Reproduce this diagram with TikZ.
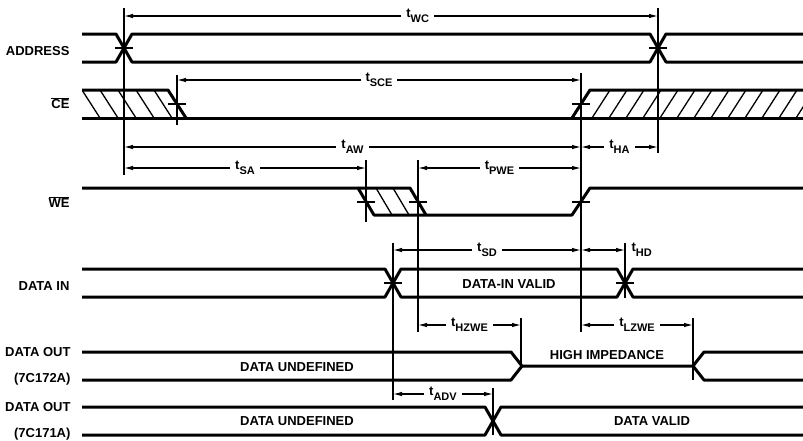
\documentclass[tikz,border=0pt]{standalone}
\usepackage{fontspec}
\setmainfont{Liberation Sans}
\usetikzlibrary{arrows.meta}
\newcommand{\tsub}[1]{t\raisebox{-4.5pt}{\fontsize{11}{12}\selectfont #1}}
\newcommand{\ovl}[1]{$\overline{\mbox{#1}}$}
\tikzset{
  sig/.style={line width=3pt, line join=round},
  hatch/.style={line width=1.3pt},
  tline/.style={line width=1.1pt},
  dim/.style={line width=1.1pt, {Latex[length=9pt,width=4.5pt]}-{Latex[length=9pt,width=4.5pt]}},
  lbl/.style={fill=white, inner xsep=5pt, inner ysep=1pt, font=\bfseries\fontsize{13}{15}\selectfont},
  txt/.style={font=\bfseries\fontsize{13}{15}\selectfont},
  signame/.style={anchor=east, font=\bfseries\fontsize{13}{15}\selectfont}
}
\begin{document}
\begin{tikzpicture}[x=1pt, y=-1pt]
  \useasboundingbox (0,0) rectangle (803,440);

  % signal names
  \node[signame] (nAddr) at (73,51) {ADDRESS};
  \node[signame] (nCE) at (73,103) {\ovl{CE}};
  \node[signame] (nWE) at (73,202) {\ovl{WE}};
  \node[signame] (nDin) at (73,286) {DATA IN};
  \node[signame] (nDoutA) at (74,352) {DATA OUT};
  \node[signame] (nDoutAb) at (74,379) {(7C172A)};
  \node[signame] (nDoutB) at (74,407) {DATA OUT};
  \node[signame] (nDoutBb) at (74,434) {(7C171A)};

  % reference lines
  \draw[tline] (124,8) -- (124,175);
  \draw[tline] (658,8) -- (658,153);
  \draw[tline] (177,75) -- (177,125);
  \draw[tline] (581,73) -- (581,332);
  \draw[tline] (366,160) -- (366,222);
  \draw[tline] (418,160) -- (418,332);
  \draw[tline] (393,243) -- (393,400);
  \draw[tline] (625,243) -- (625,298);
  \draw[tline] (521,318) -- (521,368);
  \draw[tline] (693,318) -- (693,380);
  \draw[tline] (493,388) -- (493,435);

  % crossing ticks
  \foreach \x/\y in {124/48, 658/48, 177/104, 581/104, 366/202, 418/202, 581/202, 393/283, 625/283}
    \draw[tline] (\x-9,\y) -- (\x+9,\y);
  \draw[tline] (521,366) -- (530,366);

  % ADDRESS
  \draw[sig] (82,34) -- (116,34) -- (132,62) -- (650,62) -- (666,34) -- (803,34);
  \draw[sig] (82,62) -- (116,62) -- (132,34) -- (650,34) -- (666,62) -- (803,62);

  % CE
  \draw[sig] (82,118) -- (803,118);
  \draw[sig] (82,90) -- (168,90) -- (186,118);
  \draw[sig] (572,118) -- (590,90) -- (803,90);
  \begin{scope}
    \clip (82,90) -- (168,90) -- (186,118) -- (82,118) -- cycle;
    \foreach \x in {82,100,...,172}
      \draw[hatch] (\x,90) -- (\x+18,118);
  \end{scope}
  \begin{scope}
    \clip (572,118) -- (590,90) -- (803,90) -- (803,118) -- cycle;
    \foreach \x in {592,609,...,820}
      \draw[hatch] (\x,118) -- (\x+18,90);
  \end{scope}

  % WE
  \draw[sig] (82,188) -- (358,188) -- (374,215) -- (572,215) -- (590,188) -- (803,188);
  \draw[sig] (358,188) -- (410,188) -- (426,215);
  \begin{scope}
    \clip (358,188) -- (410,188) -- (426,215) -- (374,215) -- cycle;
    \foreach \x in {376,393}
      \draw[hatch] (\x,188) -- (\x+16,215);
  \end{scope}

  % DATA IN
  \draw[sig] (82,269) -- (385,269) -- (401,297) -- (617,297) -- (633,269) -- (803,269);
  \draw[sig] (82,297) -- (385,297) -- (401,269) -- (617,269) -- (633,297) -- (803,297);
  \node[txt] (dinValid) at (509,284) {DATA-IN VALID};

  % DATA OUT (7C172A)
  \draw[sig] (82,352) -- (511,352) -- (522,366) -- (693,366) -- (704,352) -- (803,352);
  \draw[sig] (82,380) -- (511,380) -- (522,366);
  \draw[sig] (693,366) -- (704,380) -- (803,380);
  \node[txt] (undefA) at (297,367) {DATA UNDEFINED};
  \node[txt] (highZ) at (607,355) {HIGH IMPEDANCE};

  % DATA OUT (7C171A)
  \draw[sig] (82,407) -- (485,407) -- (501,435) -- (803,435);
  \draw[sig] (82,435) -- (485,435) -- (501,407) -- (803,407);
  \node[txt] (undefB) at (297,421) {DATA UNDEFINED};
  \node[txt] (valid) at (652,421) {DATA VALID};

  % timing parameters
  \draw[dim] (124,16) -- (658,16) node[lbl, pos=0.55] (twc) {\tsub{WC}};
  \draw[dim] (177,80) -- (581,80) node[lbl, midway] (tsce) {\tsub{SCE}};
  \draw[dim] (124,147) -- (581,147) node[lbl, midway] (taw) {\tsub{AW}};
  \draw[dim] (581,147) -- (658,147) node[lbl, midway] (tha) {\tsub{HA}};
  \draw[dim] (124,168) -- (366,168) node[lbl, midway] (tsa) {\tsub{SA}};
  \draw[dim] (418,168) -- (581,168) node[lbl, midway] (tpwe) {\tsub{PWE}};
  \draw[dim] (393,250) -- (581,250) node[lbl, midway] (tsd) {\tsub{SD}};
  \draw[dim] (581,250) -- (625,250);
  \node[txt, anchor=west] (thd) at (628,250) {\tsub{HD}};
  \draw[dim] (418,325) -- (521,325) node[lbl, midway] (thzwe) {\tsub{HZWE}};
  \draw[dim] (581,325) -- (693,325) node[lbl, midway] (tlzwe) {\tsub{LZWE}};
  \draw[dim] (393,394) -- (493,394) node[lbl, midway] (tadv) {\tsub{ADV}};
\end{tikzpicture}
\end{document}
